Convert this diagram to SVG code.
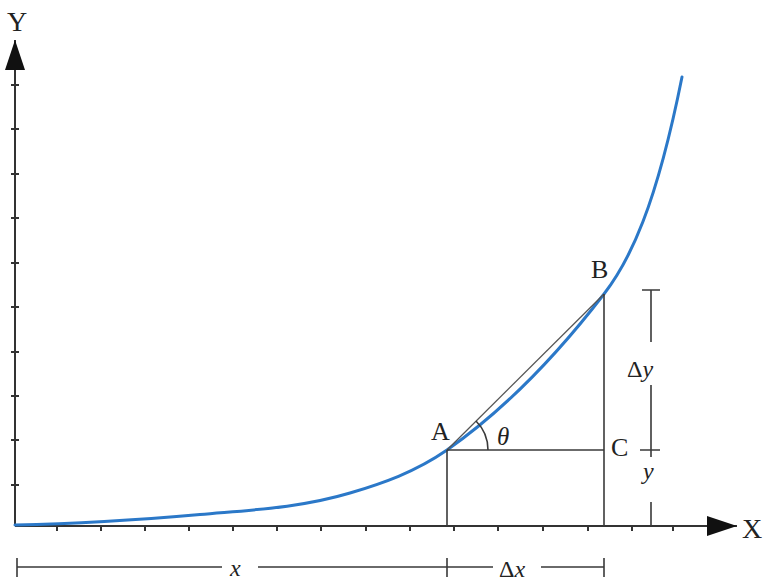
<svg xmlns="http://www.w3.org/2000/svg" width="764" height="581" viewBox="0 0 764 581">
<style>
.axis{stroke:#333;stroke-width:2;fill:none}
.tick{stroke:#333;stroke-width:2}
.ln{stroke:#3a3a3a;stroke-width:1.6;fill:none}
.chord{stroke:#555;stroke-width:1.3;fill:none}
.curve{stroke:#2b78c8;stroke-width:3;fill:none;stroke-linecap:round}
.lbl{font-family:"Liberation Serif",serif;font-size:26px;fill:#222}
.it{font-style:italic}
</style>
<defs>
<marker id="arr" viewBox="0 0 30 20" refX="30" refY="10" markerWidth="30" markerHeight="20" markerUnits="userSpaceOnUse" orient="auto">
<path d="M0,0 L30,10 L0,20 Z" fill="#111"/>
</marker>
</defs>
<rect width="764" height="581" fill="#fff"/>
<g id="axes">
<line class="axis" x1="15" y1="526" x2="15" y2="40" marker-end="url(#arr)"/>
<line class="axis" x1="15" y1="526" x2="737" y2="526" marker-end="url(#arr)"/>
<text class="lbl" x="7" y="31" style="font-size:28px">Y</text>
<text class="lbl" x="742" y="538" style="font-size:28px">X</text>
</g>
<g id="ticks">
<path class="tick" d="M11,85h8M11,129h8M11,174h8M11,218h8M11,263h8M11,307h8M11,352h8M11,396h8M11,440h8M11,485h8"/>
<path class="tick" d="M57,526v5M101,526v5M145,526v5M189,526v5M233,526v5M277,526v5M321,526v5M366,526v5M410,526v5M454,526v5M498,526v5M543,526v5M588,526v5M632,526v5M673,526v5"/>
</g>
<g id="curve">
<path class="curve" d="M15,525 C76.7,523.8 138.3,520 200,514.5 C250,510 300,508 350,493 C382.3,483.3 414.7,472.4 447,450 C499.3,413.4 551.7,362 604,294 C630,260.2 656,207 682,77"/>
</g>
<g id="connectors">
<line class="chord" x1="447" y1="450" x2="604" y2="294"/>
<line class="ln" x1="447" y1="450" x2="447" y2="526"/>
<line class="ln" x1="604" y1="294" x2="604" y2="526"/>
<line class="ln" x1="447" y1="450" x2="604" y2="450"/>
<path class="ln" d="M488,450 A41,41 0 0 0 476,421"/>
</g>
<g id="dim-dy">
<path class="ln" d="M642,290h18M651,290v52M651,385v72M640,450h20M651,502v24"/>
<text class="lbl" x="627" y="377" style="font-size:24px">Δ<tspan class="it">y</tspan></text>
<text class="lbl it" x="643" y="479" style="font-size:24px">y</text>
</g>
<g id="dim-x">
<path class="ln" d="M17,558v19M17,567h205M258,567h189M447,558v19M447,567h46M541,567h63M604,558v19"/>
<text class="lbl it" x="230" y="576" style="font-size:24px">x</text>
<text class="lbl" x="499" y="577" style="font-size:24px">Δ<tspan class="it">x</tspan></text>
</g>
<g id="points">
<text class="lbl" x="431" y="440">A</text>
<text class="lbl" x="591" y="278">B</text>
<text class="lbl" x="611" y="456">C</text>
<text class="lbl it" x="497" y="445" style="font-size:25px">θ</text>
</g>
</svg>
